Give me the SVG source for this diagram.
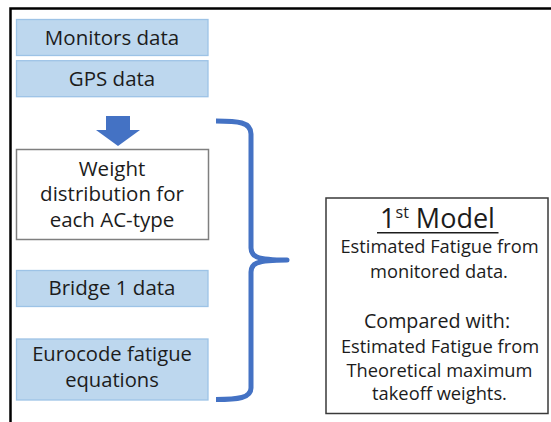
<svg xmlns="http://www.w3.org/2000/svg" width="551" height="422" viewBox="0 0 551 422">
  <style>
    .in { fill: #BDD7EE; stroke: #9DC3E6; stroke-width: 1.3; }
    .t { font-family: "Open Sans", "Noto Sans", "Liberation Sans", sans-serif; fill: #1c1c1c; text-anchor: middle; }
    .big { font-size: 20.5px; }
    .sm { font-size: 18.3px; }
    .brace { fill: none; stroke: #4472C4; stroke-width: 5; stroke-linecap: butt; stroke-linejoin: round; }
  </style>
  <rect x="0" y="0" width="551" height="422" fill="#ffffff"/>
  <path id="frame" d="M10.5,422 V8.5 H551" fill="none" stroke="#000000" stroke-width="2.5"/>

  <g id="monitors">
    <rect class="in" x="16.5" y="19.5" width="191.5" height="36"/>
    <text class="t big" x="112" y="45">Monitors data</text>
  </g>
  <g id="gps">
    <rect class="in" x="16.5" y="60.7" width="191.5" height="36"/>
    <text class="t big" x="112" y="86.2">GPS data</text>
  </g>
  <g id="weight">
    <rect x="16.5" y="149.5" width="192" height="90" fill="#ffffff" stroke="#7F7F7F" stroke-width="1.5"/>
    <text class="t big" x="112" y="175.5">Weight</text>
    <text class="t big" x="112" y="201">distribution for</text>
    <text class="t big" x="112" y="226.5">each AC-type</text>
  </g>
  <g id="bridge">
    <rect class="in" x="16.5" y="270.5" width="191.5" height="36"/>
    <text class="t big" x="112" y="295.3">Bridge 1 data</text>
  </g>
  <g id="eurocode">
    <rect class="in" x="16.5" y="339" width="191.5" height="61"/>
    <text class="t" x="112" y="360.5" font-size="20.2">Eurocode fatigue</text>
    <text class="t" x="112" y="386.5" font-size="20.2">equations</text>
  </g>
  <g id="model">
    <rect x="326" y="198" width="222" height="215.5" fill="#ffffff" stroke="#3a3a3a" stroke-width="1.5"/>
    <text class="t" x="437.5" y="228.3" font-size="27">1<tspan font-size="16" dy="-10">st</tspan><tspan dy="10"> Model</tspan></text>
    <line x1="377" y1="232.8" x2="498.5" y2="232.8" stroke="#1c1c1c" stroke-width="1.5"/>
    <text class="t sm" x="439.5" y="253">Estimated Fatigue from</text>
    <text class="t sm" x="439" y="277.5">monitored data.</text>
    <text class="t" x="437" y="327.5" font-size="19.7">Compared with:</text>
    <text class="t sm" x="440" y="353">Estimated Fatigue from</text>
    <text class="t sm" x="439.5" y="377">Theoretical maximum</text>
    <text class="t sm" x="439.5" y="400">takeoff weights.</text>
  </g>

  <g id="connectors">
    <path id="arrow" d="M106,116 H130 V130 H140 L118,146 L96,130 H106 Z" fill="#4472C4"/>
    <path id="brace" class="brace" d="M216,121 C238,121 251,122 251,134 V248 C251,256 255,260 287,260 C255,260 251,264 251,272 V388 C251,398 238,399.5 216,399.5"/>
  </g>
</svg>
